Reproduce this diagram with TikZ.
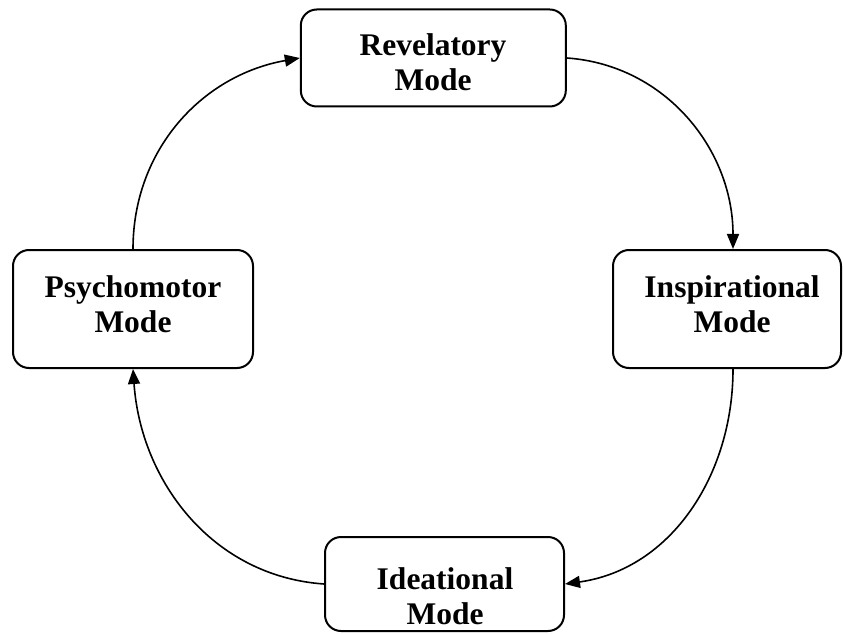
\documentclass[tikz,border=0pt]{standalone}
\usepackage{fontspec}
\setmainfont{Liberation Serif}
\usetikzlibrary{arrows.meta}
\begin{document}
\begin{tikzpicture}[x=1pt,y=1pt,
  modebox/.style={draw, line width=2pt, rounded corners=16pt, inner sep=0pt},
  modetext/.style={font=\fontsize{31.5}{35}\selectfont\bfseries, align=center, inner sep=0pt},
  flow/.style={line width=1.6pt, -{Triangle[length=15pt,width=12pt]}}]
\useasboundingbox (0,0) rectangle (843,633);
% boxes
\node[modebox, minimum width=265pt, minimum height=97pt] (rev) at (433.3,575) {};
\node[modebox, minimum width=240pt, minimum height=118pt] (psy) at (133,324) {};
\node[modebox, minimum width=228pt, minimum height=118pt] (ins) at (727,324) {};
\node[modebox, minimum width=239pt, minimum height=94pt] (ide) at (444.5,49) {};
% texts
\node[modetext] (revt) at (433,571) {Revelatory\\Mode};
\node[modetext] (psyt) at (133,329) {Psychomotor\\Mode};
\node[modetext] (inst) at (732,329) {Inspirational\\Mode};
\node[modetext] (idet) at (445,37) {Ideational\\Mode};
% anchor points offset for the inspirational box
\coordinate (insn) at ([xshift=6pt]ins.north);
\coordinate (inss) at ([xshift=6pt]ins.south);
% connectors
\draw[flow] (psy.north) to[out=90, in=190] (rev.west);
\draw[flow] (rev.east) to[out=-4, in=90] (insn);
\draw[flow] (inss) to[out=-90, in=8] (ide.east);
\draw[flow] (ide.west) to[out=176, in=-86] (psy.south);
\end{tikzpicture}
\end{document}
